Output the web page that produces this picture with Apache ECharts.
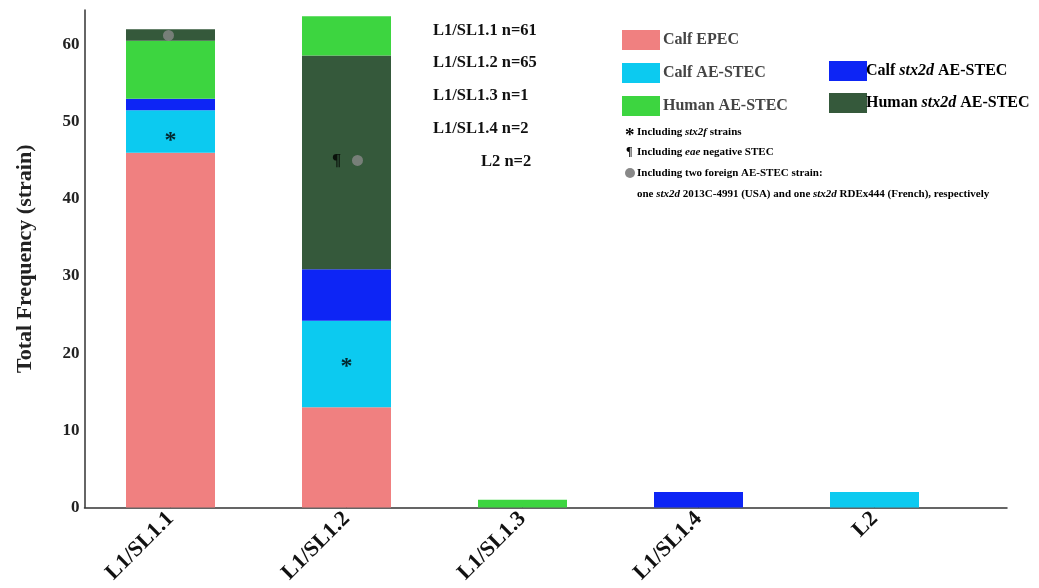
<!DOCTYPE html>
<html>
<head>
<meta charset="utf-8">
<script src="https://cdn.jsdelivr.net/npm/echarts@6/dist/echarts.min.js"></script>
<style>
html, body { margin: 0; padding: 0; background: #fff; }
#main { width: 1039px; height: 588px; }
</style>
</head>
<body>
<div id="main"></div>
<script>
var categories = ['L1/SL1.1', 'L1/SL1.2', 'L1/SL1.3', 'L1/SL1.4', 'L2'];
var calfEPEC   = [46, 13, 0, 0, 0];
var calfAE     = [5.5, 11.2, 0, 0, 2];
var calfStx2d  = [1.5, 6.7, 0, 2, 0];
var humanAE    = [7.5, 5.1, 1, 0, 0];
var humanStx2d = [1.5, 27.7, 0, 0, 0];
// in L1/SL1.2 the human AE-STEC block sits above the human stx2d block
var humanAEOnTop = [false, true, false, false, false];
var counts = ['n=61', 'n=65', 'n=1', 'n=2', 'n=2'];

var starMarks = [[0, 48], [1, 18.7]];
var pilcrowMarks = [[1, 45]];
var dotMarks = [[0, 61.2], [1, 45]];

var FONT = 'Liberation Serif';
var YMAX = 64.5;
var colors = {
    'Calf EPEC': '#F08080',
    'Calf AE-STEC': '#0CCAF0',
    'Calf stx2d AE-STEC': '#0D25F5',
    'Human AE-STEC': '#3DD540',
    'Human stx2d AE-STEC': '#35593B'
};

function barSeries(name, arr) {
    return {
        name: name,
        type: 'bar',
        stack: 'total',
        barWidth: 89,
        xAxisIndex: 0, yAxisIndex: 0,
        itemStyle: { color: colors[name] },
        data: arr.map(function (v) { return v ? v : '-'; })
    };
}

var myChart = echarts.init(document.getElementById('main'));

var series = [
    barSeries('Calf EPEC', calfEPEC),
    barSeries('Calf AE-STEC', calfAE),
    barSeries('Calf stx2d AE-STEC', calfStx2d),
    barSeries('Human AE-STEC', humanAE.map(function (v, i) { return humanAEOnTop[i] ? 0 : v; })),
    barSeries('Human stx2d AE-STEC', humanStx2d),
    barSeries('Human AE-STEC', humanAE.map(function (v, i) { return humanAEOnTop[i] ? v : 0; })),
    {
        type: 'scatter', symbolSize: 2, z: 5, xAxisIndex: 0, yAxisIndex: 0,
        itemStyle: { color: 'transparent' },
        data: starMarks,
        label: { show: true, position: 'inside', formatter: '*', fontSize: 24, fontWeight: 'bold', color: '#000', fontFamily: FONT, offset: [0, 4] }
    },
    {
        type: 'scatter', symbolSize: 2, z: 5, xAxisIndex: 0, yAxisIndex: 0,
        itemStyle: { color: 'transparent' },
        data: pilcrowMarks.map(function (p) { return { value: p, symbolOffset: [-10, 0] }; }),
        label: { show: true, position: 'inside', formatter: '¶', fontSize: 17, fontWeight: 'bold', color: '#000', fontFamily: FONT }
    },
    {
        type: 'scatter', symbolSize: 11, z: 5, xAxisIndex: 0, yAxisIndex: 0,
        itemStyle: { color: '#888' },
        data: dotMarks.map(function (p, k) { return { value: p, symbolOffset: [k === 0 ? -2 : 11, 0] }; })
    }
];

var legendText = {
    fontFamily: FONT, fontSize: 16, fontWeight: 'bold',
    rich: { i: { fontFamily: FONT, fontSize: 16, fontWeight: 'bold', fontStyle: 'italic', color: '#000' } }
};

var italicRich = { i: { fontFamily: FONT, fontSize: 11, fontWeight: 'bold', fontStyle: 'italic' } };
function note(x, y, text) {
    return {
        type: 'text', left: x, top: y,
        style: { text: text, fontFamily: FONT, fontSize: 11, fontWeight: 'bold', fill: '#000', rich: italicRich }
    };
}

var countLabels = categories.map(function (c, i) {
    return {
        type: 'text', left: c === 'L2' ? 481 : 433, top: 22 + i * 32.7,
        style: { text: c + ' ' + counts[i], fontFamily: FONT, fontSize: 16.5, fontWeight: 'bold', fill: '#111' }
    };
});

option = {
    animation: false,
    grid: [
        // bars: five bands of 176 px
        { left: 82.5, right: 76.5, top: 10, bottom: 80.5 },
        // frame: axes run to the right end
        { left: 84.5, right: 32, top: 10, bottom: 80.5 }
    ],
    xAxis: [{
        type: 'category',
        gridIndex: 0,
        data: categories,
        axisLine: { show: false },
        axisTick: { show: true, inside: true, length: 4, alignWithLabel: true, lineStyle: { color: '#333' } },
        axisLabel: {
            rotate: 45, margin: 8, interval: 0,
            fontFamily: FONT, fontSize: 22, fontWeight: 'bold', color: '#111'
        }
    }, {
        type: 'value',
        gridIndex: 1,
        min: 0, max: 1,
        splitLine: { show: false },
        axisLine: { show: true, onZero: false, lineStyle: { color: '#333', width: 1.5 } },
        axisTick: { show: false },
        axisLabel: { show: false }
    }],
    yAxis: [{
        type: 'value',
        gridIndex: 0,
        min: 0, max: YMAX,
        show: false
    }, {
        type: 'value',
        gridIndex: 1,
        min: 0, max: YMAX, interval: 10,
        name: 'Total Frequency (strain)',
        nameLocation: 'middle', nameGap: 48,
        nameTextStyle: { fontFamily: FONT, fontSize: 22, fontWeight: 'bold', color: '#222' },
        splitLine: { show: false },
        axisLine: { show: true, onZero: false, lineStyle: { color: '#333', width: 1.5 } },
        axisTick: { show: false },
        axisLabel: {
            margin: 5, fontFamily: FONT, fontSize: 17, fontWeight: 'bold', color: '#222',
            showMaxLabel: false
        }
    }],
    legend: [{
        orient: 'vertical', left: 617, top: 25,
        itemWidth: 38, itemHeight: 20, itemGap: 13,
        icon: 'rect', selectedMode: false,
        data: ['Calf EPEC', 'Calf AE-STEC', 'Human AE-STEC'],
        textStyle: Object.assign({ color: '#444', padding: [0, 0, 0, -2] }, legendText)
    }, {
        orient: 'vertical', left: 824, top: 56,
        itemWidth: 38, itemHeight: 20, itemGap: 12,
        icon: 'rect', selectedMode: false,
        data: ['Calf stx2d AE-STEC', 'Human stx2d AE-STEC'],
        formatter: function (n) { return n.replace('stx2d', '{i|stx2d}'); },
        textStyle: Object.assign({ color: '#000', padding: [0, 0, 0, -6] }, legendText)
    }],
    graphic: countLabels.concat([
        { type: 'text', left: 625, top: 127, style: { text: '*', fontFamily: FONT, fontSize: 19, fontWeight: 'bold', fill: '#000' } },
        { type: 'text', left: 626, top: 146, style: { text: '¶', fontFamily: FONT, fontSize: 12, fontWeight: 'bold', fill: '#000' } },
        { type: 'circle', shape: { cx: 630, cy: 173, r: 5 }, style: { fill: '#888' } },
        note(637, 127, 'Including {i|stx2f} strains'),
        note(637, 147, 'Including {i|eae} negative STEC'),
        note(637, 168, 'Including two foreign AE-STEC strain:'),
        note(637, 189, 'one {i|stx2d} 2013C-4991 (USA) and one {i|stx2d} RDEx444 (French), respectively')
    ]),
    series: series
};

if (option && typeof option === 'object') {
    myChart.setOption(option, true);
}
</script>
</body>
</html>
